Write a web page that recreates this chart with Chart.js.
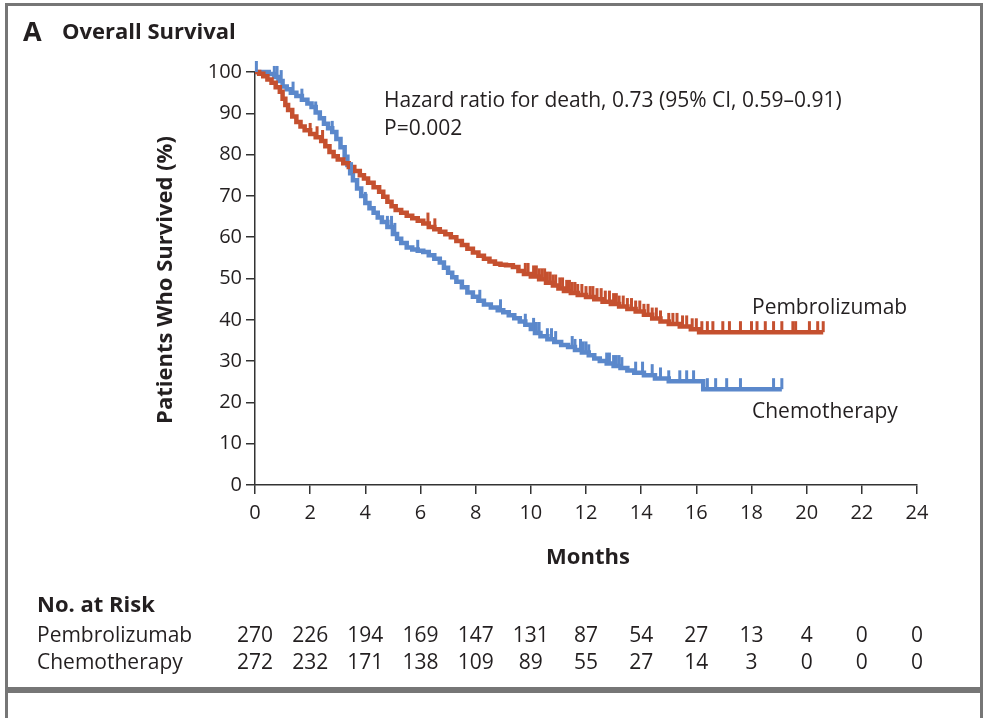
<!DOCTYPE html>
<html>
<head>
<meta charset="utf-8">
<script src="https://cdn.jsdelivr.net/npm/chart.js@4.4.1/dist/chart.umd.min.js"></script>
<style>
  html, body { margin: 0; padding: 0; background: #fff; }
  body { width: 988px; height: 718px; position: relative; overflow: hidden; }
  #frame { position: absolute; left: 5px; top: 3px; width: 972px; height: 681px; border: 3px solid #767676; }
  #next { position: absolute; left: 5px; top: 690px; width: 972px; height: 60px; border: 3px solid #767676; }
  canvas { position: absolute; left: 0; top: 0; }
</style>
</head>
<body>
<div id="frame"></div>
<div id="next"></div>
<canvas id="km" width="988" height="718"></canvas>
<script>
// === Data ===
const pembroMonths = [0, 0.15, 0.3, 0.45, 0.6, 0.75, 0.9, 1.0, 1.1, 1.2, 1.35, 1.5, 1.65, 1.8, 2.0, 2.2, 2.4, 2.55, 2.7, 2.85, 3.0, 3.2, 3.4, 3.6, 3.8, 3.95, 4.1, 4.3, 4.5, 4.65, 4.8, 4.95, 5.1, 5.3, 5.5, 5.7, 5.9, 6.1, 6.3, 6.5, 6.7, 6.9, 7.1, 7.3, 7.5, 7.7, 7.9, 8.1, 8.3, 8.5, 8.7, 8.9, 9.1, 9.35, 9.55, 9.75, 10.0, 10.3, 10.55, 10.8, 11.0, 11.2, 11.45, 11.7, 12.0, 12.3, 12.6, 12.9, 13.2, 13.5, 13.8, 14.1, 14.4, 14.7, 15.0, 15.4, 15.8, 16.1, 20.6];
const pembroSurv = [100, 99.6, 99.0, 98.2, 97.4, 96.3, 95.2, 93.5, 92.0, 90.8, 89.2, 87.9, 86.8, 85.9, 85.0, 84.2, 83.3, 82.0, 80.6, 79.6, 78.8, 77.9, 77.0, 76.0, 75.0, 74.2, 73.2, 72.1, 71.0, 69.8, 68.6, 67.5, 66.6, 65.9, 65.2, 64.6, 64.0, 63.3, 62.5, 61.9, 61.3, 60.7, 60.0, 59.1, 58.1, 57.2, 56.3, 55.5, 54.8, 54.1, 53.6, 53.3, 53.2, 52.8, 51.8, 51.1, 50.5, 49.8, 49.0, 48.3, 47.6, 47.0, 46.5, 46.0, 45.5, 45.0, 44.4, 43.8, 43.2, 42.6, 42.0, 41.2, 40.3, 39.6, 39.0, 38.4, 37.7, 37.0, 37.0];
const pembroCensor = [2.0, 2.25, 2.45, 6.27, 6.52, 9.8, 9.9, 10.1, 10.2, 10.3, 10.4, 10.5, 10.6, 10.7, 10.8, 10.9, 11.05, 11.15, 11.3, 11.4, 11.5, 11.6, 11.7, 11.85, 12.0, 12.15, 12.25, 12.4, 12.55, 12.7, 12.85, 13.0, 13.1, 13.2, 13.35, 13.5, 13.65, 13.8, 13.95, 14.1, 14.25, 14.4, 14.55, 14.7, 15.0, 15.15, 15.3, 15.5, 15.65, 15.85, 16.0, 16.2, 16.4, 16.6, 16.96, 17.2, 17.6, 18.0, 18.2, 18.5, 18.8, 19.1, 19.5, 19.6, 20.1, 20.4, 20.6];

const chemoMonths = [0, 0.2, 0.5, 0.7, 0.85, 1.0, 1.15, 1.3, 1.5, 1.7, 1.9, 2.05, 2.2, 2.35, 2.5, 2.65, 2.8, 2.95, 3.1, 3.25, 3.35, 3.45, 3.55, 3.7, 3.85, 4.0, 4.15, 4.3, 4.45, 4.6, 4.8, 5.0, 5.15, 5.3, 5.5, 5.7, 5.9, 6.1, 6.3, 6.5, 6.7, 6.85, 7.0, 7.15, 7.3, 7.5, 7.7, 7.9, 8.1, 8.3, 8.55, 8.8, 9.0, 9.2, 9.4, 9.6, 9.8, 10.0, 10.15, 10.35, 10.6, 10.85, 11.1, 11.35, 11.6, 11.85, 12.1, 12.3, 12.5, 12.75, 13.0, 13.25, 13.5, 13.75, 14.1, 14.5, 15.0, 16.25, 19.1];
const chemoSurv = [100, 100, 99.5, 98.8, 97.8, 96.5, 95.8, 95.0, 94.2, 93.3, 92.4, 91.5, 90.2, 88.8, 87.5, 86.4, 85.5, 83.8, 81.8, 79.5, 77.5, 75.5, 73.8, 71.8, 70.0, 68.3, 67.0, 65.9, 64.8, 63.7, 62.5, 60.8, 59.6, 58.6, 57.5, 57.0, 56.7, 56.4, 55.6, 54.8, 53.9, 52.6, 51.4, 50.3, 49.2, 47.9, 46.6, 45.6, 44.6, 43.7, 43.0, 42.3, 41.8, 41.1, 40.4, 39.6, 38.8, 37.8, 36.8, 36.0, 35.3, 34.6, 33.9, 33.4, 32.7, 32.1, 31.4, 30.6, 30.0, 29.4, 28.8, 28.3, 27.7, 27.2, 26.6, 25.8, 25.1, 23.2, 23.2];
const chemoCensor = [0.05, 0.7, 0.8, 0.95, 1.38, 1.7, 2.2, 2.8, 3.5, 4.0, 4.8, 4.95, 5.07, 5.9, 8.15, 8.9, 9.8, 10.1, 10.2, 10.3, 10.6, 10.75, 10.9, 11.5, 11.6, 11.8, 11.9, 12.0, 12.1, 12.75, 12.85, 13.0, 13.1, 13.2, 13.3, 13.8, 14.05, 14.4, 14.7, 15.0, 15.4, 15.65, 15.9, 16.4, 16.7, 17.1, 17.6, 18.8, 19.1];

const riskMonths = [0, 2, 4, 6, 8, 10, 12, 14, 16, 18, 20, 22, 24];
const pembroRisk = [270, 226, 194, 169, 147, 131, 87, 54, 27, 13, 4, 0, 0];
const chemoRisk = [272, 232, 171, 138, 109, 89, 55, 27, 14, 3, 0, 0, 0];

const RED = "#c5502f";
const BLUE = "#5b88cb";
const INK = "#231f20";
const FONT = "'Open Sans', Lato, sans-serif";

// survival value at time t from step data
function survAt(months, surv, t) {
  let v = surv[0];
  for (let i = 0; i < months.length; i++) {
    if (months[i] <= t) v = surv[i];
  }
  return v;
}

// === Censor ticks + labels + risk table ===
const annotate = {
  id: "annotate",
  afterDatasetsDraw(chart) {
    const { ctx, scales } = chart;
    const x = scales.x, y = scales.y;
    const groups = [
      [pembroMonths, pembroSurv, pembroCensor, RED],
      [chemoMonths, chemoSurv, chemoCensor, BLUE],
    ];
    ctx.save();
    ctx.lineWidth = 3;
    groups.forEach(([m, s, c, col]) => {
      ctx.strokeStyle = col;
      c.forEach((t) => {
        const px = x.getPixelForValue(t);
        const py = y.getPixelForValue(survAt(m, s, t));
        ctx.beginPath();
        ctx.moveTo(px, py);
        ctx.lineTo(px, py - 11);
        ctx.stroke();
      });
    });
    ctx.restore();
  },
  afterDraw(chart) {
    const { ctx, scales } = chart;
    const x = scales.x;
    ctx.save();
    ctx.fillStyle = INK;
    ctx.textBaseline = "middle";

    // panel title
    ctx.font = `bold 27px ${FONT}`;
    ctx.fillText("A", 23, 33);
    ctx.font = `bold 22px ${FONT}`;
    ctx.fillText("Overall Survival", 62, 33);

    // stats text
    ctx.font = `21px ${FONT}`;
    ctx.fillText("Hazard ratio for death, 0.73 (95% CI, 0.59\u20130.91)", 384, 101);
    ctx.fillText("P=0.002", 384, 129);

    // series labels
    ctx.fillText("Pembrolizumab", 752, 308);
    ctx.fillText("Chemotherapy", 752, 412);

    // axis titles
    ctx.font = `bold 22px ${FONT}`;
    ctx.textAlign = "center";
    ctx.fillText("Months", 588, 558);
    ctx.save();
    ctx.translate(166, 280);
    ctx.rotate(-Math.PI / 2);
    ctx.fillText("Patients Who Survived (%)", 0, 0);
    ctx.restore();

    // risk table
    ctx.textAlign = "left";
    ctx.font = `bold 22px ${FONT}`;
    ctx.fillText("No. at Risk", 37, 606);
    ctx.font = `21px ${FONT}`;
    ctx.fillText("Pembrolizumab", 37, 636);
    ctx.fillText("Chemotherapy", 37, 663);
    ctx.textAlign = "center";
    riskMonths.forEach((m, i) => {
      const px = x.getPixelForValue(m);
      ctx.fillText(String(pembroRisk[i]), px, 636);
      ctx.fillText(String(chemoRisk[i]), px, 663);
    });
    ctx.restore();
  },
};

new Chart(document.getElementById("km"), {
  type: "line",
  data: {
    datasets: [
      {
        label: "Pembrolizumab",
        data: pembroMonths.map((m, i) => ({ x: m, y: pembroSurv[i] })),
        borderColor: RED,
        borderWidth: 4.5,
        stepped: "before",
        pointRadius: 0,
        fill: false,
        clip: 10,
      },
      {
        label: "Chemotherapy",
        data: chemoMonths.map((m, i) => ({ x: m, y: chemoSurv[i] })),
        borderColor: BLUE,
        borderWidth: 4.5,
        stepped: "before",
        pointRadius: 0,
        fill: false,
        clip: 10,
      },
    ],
  },
  options: {
    responsive: false,
    animation: false,
    layout: { padding: { left: 0, top: 72, right: 71, bottom: 193 } },
    plugins: { legend: { display: false }, tooltip: { enabled: false } },
    scales: {
      x: {
        type: "linear",
        min: 0,
        max: 24,
        afterFit: (s) => { s.height = 40; },
        ticks: { stepSize: 2, color: INK, font: { family: FONT, size: 20 }, padding: 7, maxRotation: 0 },
        grid: { drawOnChartArea: false, tickLength: 9, color: "#333", lineWidth: 1.5 },
        border: { color: "#333", width: 1.5 },
      },
      y: {
        min: 0,
        max: 100,
        afterFit: (s) => { s.width = 255; },
        ticks: { stepSize: 10, color: INK, font: { family: FONT, size: 20 }, padding: 4 },
        grid: { drawOnChartArea: false, tickLength: 9, color: "#333", lineWidth: 1.5 },
        border: { color: "#333", width: 1.5 },
      },
    },
  },
  plugins: [annotate],
});
</script>
</body>
</html>
